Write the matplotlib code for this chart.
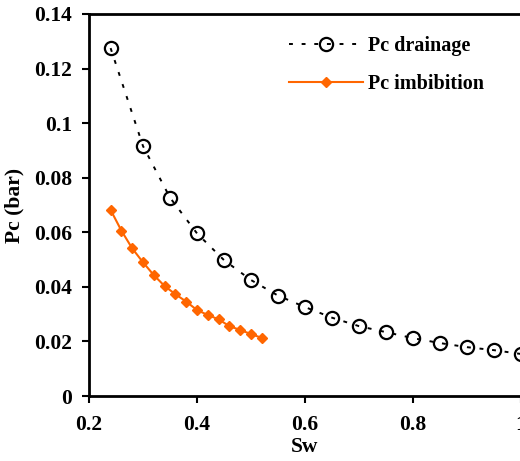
import matplotlib
matplotlib.use("Agg")
import matplotlib.pyplot as plt

# drainage curve
sw_drain = [0.24, 0.30, 0.35, 0.40, 0.45, 0.50, 0.55, 0.60, 0.65, 0.70,
            0.75, 0.80, 0.85, 0.90, 0.95, 1.00]
pc_drain = [0.1275, 0.0916, 0.0727, 0.0596, 0.0498, 0.0425, 0.0368, 0.0326,
            0.0287, 0.0256, 0.0234, 0.0212, 0.0194, 0.0179, 0.0168, 0.0154]

# imbibition curve
sw_imb = [0.24, 0.26, 0.28, 0.30, 0.32, 0.34, 0.36, 0.38, 0.40, 0.42,
          0.44, 0.46, 0.48, 0.50, 0.52]
pc_imb = [0.0682, 0.0606, 0.0541, 0.0490, 0.0443, 0.0403, 0.0373, 0.0346,
          0.0315, 0.0297, 0.0281, 0.0256, 0.0242, 0.0227, 0.0213]

xticks = [0.2, 0.4, 0.6, 0.8, 1.0]
xtick_labels = ["0.2", "0.4", "0.6", "0.8", "1"]
yticks = [0, 0.02, 0.04, 0.06, 0.08, 0.1, 0.12, 0.14]
ytick_labels = ["0", "0.02", "0.04", "0.06", "0.08", "0.1", "0.12", "0.14"]

plt.rcParams["font.family"] = ["Liberation Serif", "DejaVu Serif"]
plt.rcParams["font.weight"] = "bold"
FS = 15.5
FS_LEG = 14.5

fig = plt.figure(figsize=(5.2, 4.61), dpi=100)
ax = fig.add_axes([89 / 520, 65 / 461, 432 / 520, 382 / 461])

ax.plot(sw_drain, pc_drain, color="black", lw=1.4, linestyle=(0, (2, 4.5)),
        marker="o", markersize=9.5, markerfacecolor="none",
        markeredgecolor="black", markeredgewidth=1.6, label="Pc drainage",
        clip_on=False)
ax.plot(sw_imb, pc_imb, color="#FF6600", lw=1.5, marker="D", markersize=5,
        markerfacecolor="#FF6600", markeredgecolor="#FF6600",
        label="Pc imbibition", clip_on=False)

ax.set_xlim(0.2, 1.0)
ax.set_ylim(0, 0.14)
ax.set_xticks(xticks)
ax.set_xticklabels(xtick_labels)
ax.set_yticks(yticks)
ax.set_yticklabels(ytick_labels)
ax.tick_params(direction="out", length=5, width=1.5, labelsize=FS, pad=7)
ax.tick_params(axis="x", pad=9)
for s in ax.spines.values():
    s.set_linewidth(2)

ax.set_xlabel("Sw", fontsize=FS, fontweight="bold", labelpad=1)
ax.set_ylabel("Pc (bar)", fontsize=FS, fontweight="bold", labelpad=7)

leg = ax.legend(loc="upper left", bbox_to_anchor=(0.42, 0.99), frameon=False,
                numpoints=1, handlelength=3.7, handletextpad=0.25,
                labelspacing=0.9, prop={"size": FS_LEG, "weight": "bold"})

fig.savefig("out.png", dpi=100)
